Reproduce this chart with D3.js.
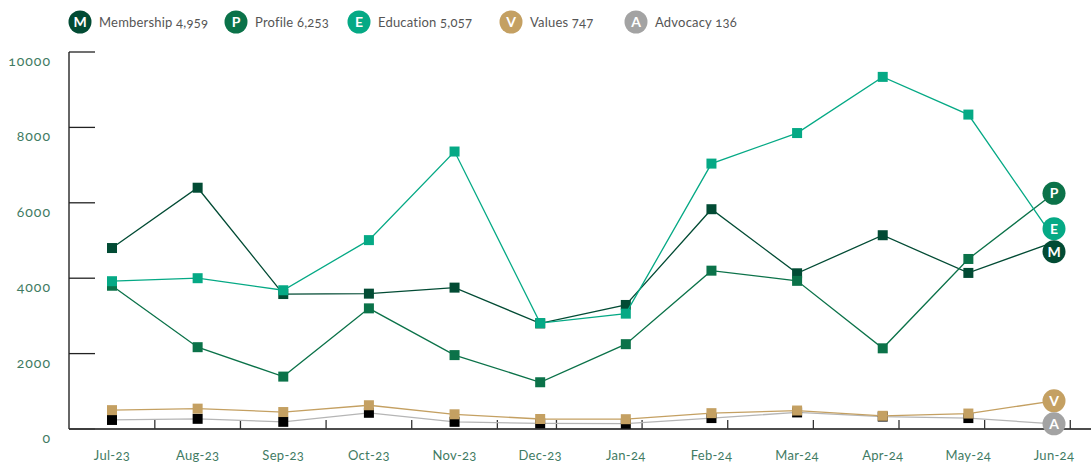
<!DOCTYPE html>
<html>
<head>
<meta charset="utf-8">
<script src="https://cdn.jsdelivr.net/npm/d3@7"></script>
<style>
  html, body { margin: 0; padding: 0; background: #fff; }
  svg { display: block; font-family: Lato, "Noto Sans", "Open Sans", sans-serif; font-variant-numeric: oldstyle-nums; }
</style>
</head>
<body>
<svg id="chart" width="1091" height="463"></svg>
<script>
// Monthly counts per category
const months = ["Jul-23","Aug-23","Sep-23","Oct-23","Nov-23","Dec-23","Jan-24","Feb-24","Mar-24","Apr-24","May-24","Jun-24"];
const membership = [4800, 6400, 3580, 3590, 3750, 2800, 3290, 5830, 4130, 5140, 4140, 4959];
const profile    = [3800, 2170, 1390, 3200, 1960, 1240, 2250, 4200, 3930, 2140, 4510, 6253];
const education  = [3920, 4000, 3680, 5010, 7360, 2810, 3060, 7040, 7850, 9340, 8340, 5057];
const values     = [500, 540, 450, 630, 390, 265, 260, 420, 490, 350, 410, 747];
const advocacy   = [240, 270, 190, 430, 190, 150, 140, 290, 440, 330, 290, 136];
const yTicks = [0, 2000, 4000, 6000, 8000, 10000];

const series = [
  { key: "A", name: "Advocacy",   values: advocacy,   color: "#a3a3a3", line: "#b5b5b5", marker: "#000000" },
  { key: "V", name: "Values",     values: values,     color: "#c4a062", line: "#c4a062", marker: "#c4a062" },
  { key: "M", name: "Membership", values: membership, color: "#024b34", line: "#024b34", marker: "#024b34" },
  { key: "P", name: "Profile",    values: profile,    color: "#0b7249", line: "#0b7249", marker: "#0b7249" },
  { key: "E", name: "Education",  values: education,  color: "#05a985", line: "#05a985", marker: "#05a985" }
];
const legendOrder = ["M", "P", "E", "V", "A"];

const svg = d3.select("#chart");
const x = d3.scalePoint().domain(months).range([112, 1054]);
const y = d3.scaleLinear().domain([0, 10000]).range([429, 52]);
const fmt = d3.format(",");
const labelColor = "#3f7b63";

// y axis: line, inward ticks and labels below each tick
svg.append("line").attr("x1", 69).attr("x2", 69).attr("y1", y(10000)).attr("y2", y(0))
  .attr("stroke", "#333").attr("stroke-width", 1.5);
svg.selectAll(".ytick").data(yTicks).join("line")
  .attr("x1", 69).attr("x2", 95).attr("y1", d => y(d)).attr("y2", d => y(d))
  .attr("stroke", d => d === 0 ? "#aaa" : "#222").attr("stroke-width", 1.3);
svg.selectAll(".ylab").data(yTicks).join("text")
  .attr("x", 51).attr("y", d => y(d) + 14)
  .attr("text-anchor", "end").attr("font-size", 14).attr("letter-spacing", 1)
  .attr("fill", labelColor)
  .text(d => d);

// x axis
svg.append("line").attr("x1", 69).attr("x2", 1091).attr("y1", y(0)).attr("y2", y(0))
  .attr("stroke", "#111").attr("stroke-width", 1.5);
const step = x.step();
const xTickPos = months.map((m, i) => x(m) + (i < 5 ? step / 2 : step * 0.19));
svg.selectAll(".xtick").data(xTickPos).join("line")
  .attr("x1", d => d).attr("x2", d => d).attr("y1", y(0) - 9).attr("y2", y(0))
  .attr("stroke", "#333").attr("stroke-width", 1.3);
svg.selectAll(".xlab").data(months).join("text")
  .attr("x", d => x(d)).attr("y", 460)
  .attr("text-anchor", "middle").attr("font-size", 13).attr("letter-spacing", 0.3)
  .attr("fill", labelColor)
  .text(d => d);

// lines and square markers (last month carries a circle label instead)
const line = d3.line().x((d, i) => x(months[i])).y(d => y(d));
series.forEach(s => {
  svg.append("path").datum(s.values).attr("d", line)
    .attr("fill", "none").attr("stroke", s.line).attr("stroke-width", 1.3);
  svg.selectAll(null).data(s.values.slice(0, -1)).join("rect")
    .attr("x", (d, i) => x(months[i]) - 5).attr("y", d => y(d) - 5)
    .attr("width", 10).attr("height", 10)
    .attr("fill", s.marker);
});

// end labels: keep circles from overlapping
const r = 11.5;
const ends = series.map(s => ({ s, y: y(s.values[s.values.length - 1]) }))
  .sort((a, b) => a.y - b.y);
for (let iter = 0; iter < 20; iter++) {
  for (let i = 1; i < ends.length; i++) {
    const gap = ends[i].y - ends[i - 1].y;
    if (gap < 2 * r) {
      const push = (2 * r - gap) / 2;
      ends[i].y += push; ends[i - 1].y -= push;
    }
  }
}
const endX = x(months[months.length - 1]);
const endG = svg.selectAll(".end").data(ends).join("g")
  .attr("transform", d => `translate(${endX},${d.y})`);
endG.append("circle").attr("r", r).attr("fill", d => d.s.color);
endG.append("text").attr("text-anchor", "middle").attr("dy", "0.36em")
  .attr("font-size", 14).attr("font-weight", 700).attr("fill", "#fff")
  .text(d => d.s.key);

// legend
const legendX = [80, 236, 359, 511, 636];
const lg = svg.selectAll(".lg").data(legendOrder.map(k => series.find(s => s.key === k))).join("g")
  .attr("transform", (d, i) => `translate(${legendX[i]},22)`);
lg.append("circle").attr("r", 11.5).attr("fill", d => d.color);
lg.append("text").attr("text-anchor", "middle").attr("dy", "0.36em")
  .attr("font-size", 14).attr("font-weight", 700).attr("fill", "#fff")
  .text(d => d.key);
lg.append("text").attr("x", 19).attr("dy", "0.36em")
  .attr("font-size", 13).attr("letter-spacing", 0.2).attr("fill", "#555")
  .text(d => `${d.name} ${fmt(d.values[d.values.length - 1])}`);
</script>
</body>
</html>
